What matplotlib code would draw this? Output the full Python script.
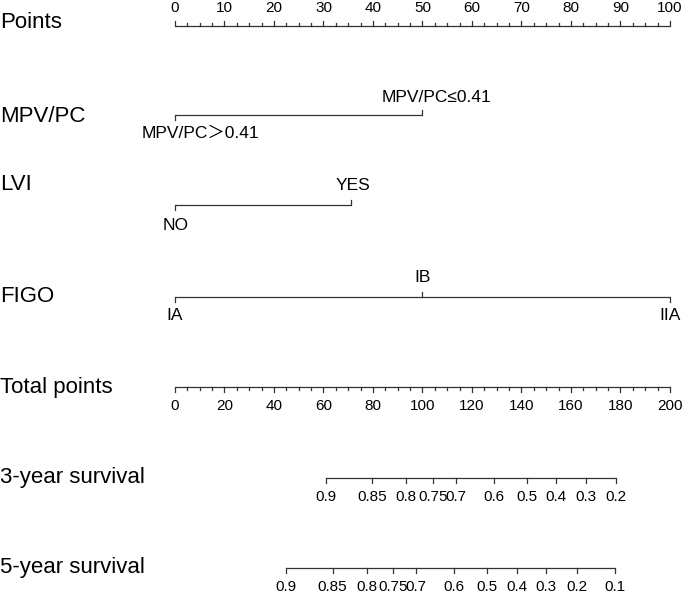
import matplotlib
matplotlib.use("Agg")
import matplotlib.pyplot as plt
import numpy as np

plt.rcParams['font.family'] = ['Liberation Sans', 'Noto Sans CJK SC', 'DejaVu Sans']

# ---------------- data ----------------
points_ticks = list(range(0, 101, 10))
points_minor_step = 2.5

mpv_levels = ['MPV/PC＞0.41', 'MPV/PC≤0.41']
mpv_points = [0, 50]

lvi_levels = ['NO', 'YES']
lvi_points = [0, 35.5]

figo_levels = ['IA', 'IB', 'IIA']
figo_points = [0, 50, 100]

total_ticks = list(range(0, 201, 20))
total_minor_step = 5

surv3_labels = ['0.9', '0.85', '0.8', '0.75', '0.7', '0.6', '0.5', '0.4', '0.3', '0.2']
surv3_total = [61.0, 79.6, 93.3, 104.3, 113.4, 128.9, 142.1, 154.0, 165.9, 178.1]

surv5_labels = ['0.9', '0.85', '0.8', '0.75', '0.7', '0.6', '0.5', '0.4', '0.3', '0.2', '0.1']
surv5_total = [44.8, 63.7, 77.5, 88.2, 97.4, 112.8, 125.9, 138.0, 149.9, 162.3, 177.8]

row_names = ['Points', 'MPV/PC', 'LVI', 'FIGO', 'Total points', '3-year survival', '5-year survival']

# ---------------- layout ----------------
W, H = 685, 595
fig = plt.figure(figsize=(W / 100, H / 100), dpi=100)
ax = fig.add_axes([0, 0, 1, 1])
px_per_pt = 4.95
x0 = 175
ax.set_xlim(-x0 / px_per_pt, (W - x0) / px_per_pt)
ax.set_ylim(H, 0)
ax.axis('off')

LC = '#333333'
LW = 0.9
FS_ROW = 16
FS_TICK = 11
FS_CAT = 12.5

def tot2pts(v):
    return np.asarray(v, dtype=float) * 100.0 / 200.0

# row labels
row_y = [23, 116, 184, 297, 387, 478, 568]
for name, y in zip(row_names, row_y):
    ax.text(-x0 / px_per_pt + 0.1, y, name, fontsize=FS_ROW, ha='left', va='center', color='black')

# Points axis
yl = 26
ax.plot([0, 100], [yl, yl], color=LC, lw=LW, solid_capstyle='butt')
for t in np.arange(0, 100 + 1e-9, points_minor_step):
    major = any(abs(t - m) < 1e-9 for m in points_ticks)
    ax.plot([t, t], [yl, yl - (5 if major else 3)], color=LC, lw=LW)
for t in points_ticks:
    ax.text(t, 8, str(t), fontsize=FS_TICK, ha='center', va='center')

# categorical axes
def cat_axis(pts, labels, yline, ylab_up, ylab_down, offsets):
    ax.plot([min(pts), max(pts)], [yline, yline], color=LC, lw=LW, solid_capstyle='butt')
    for i, (p, lab) in enumerate(zip(pts, labels)):
        up = (i % 2 == 1)
        ax.plot([p, p], [yline, yline + (-5 if up else 5)], color=LC, lw=LW)
        ax.annotate(lab, (p, ylab_up if up else ylab_down), xytext=(offsets[i], 0),
                    textcoords='offset pixels', fontsize=FS_CAT, ha='center', va='center')

cat_axis(mpv_points, mpv_levels, 115, 97, 133, [25, 14])
cat_axis(lvi_points, lvi_levels, 205, 186, 225, [1, 2])
cat_axis(figo_points, figo_levels, 297, 277, 315, [0, 0, 0])

# Total points axis
yl = 387
ax.plot([0, 100], [yl, yl], color=LC, lw=LW, solid_capstyle='butt')
for t in np.arange(0, 200 + 1e-9, total_minor_step):
    major = any(abs(t - m) < 1e-9 for m in total_ticks)
    ax.plot([tot2pts(t)] * 2, [yl, yl + (5 if major else 3)], color=LC, lw=LW)
for t in total_ticks:
    ax.text(tot2pts(t), 406, str(t), fontsize=FS_TICK, ha='center', va='center')

# survival axes
def surv_axis(labels, totals, yline, ylab):
    xs = tot2pts(totals)
    ax.plot([xs.min(), xs.max()], [yline, yline], color=LC, lw=LW, solid_capstyle='butt')
    for x, lab in zip(xs, labels):
        ax.plot([x, x], [yline, yline + 5], color=LC, lw=LW)
        ax.text(x, ylab, lab, fontsize=FS_TICK, ha='center', va='center')

surv_axis(surv3_labels, surv3_total, 478, 497)
surv_axis(surv5_labels, surv5_total, 568, 587)

fig.savefig('out.png', dpi=100, facecolor='white')
